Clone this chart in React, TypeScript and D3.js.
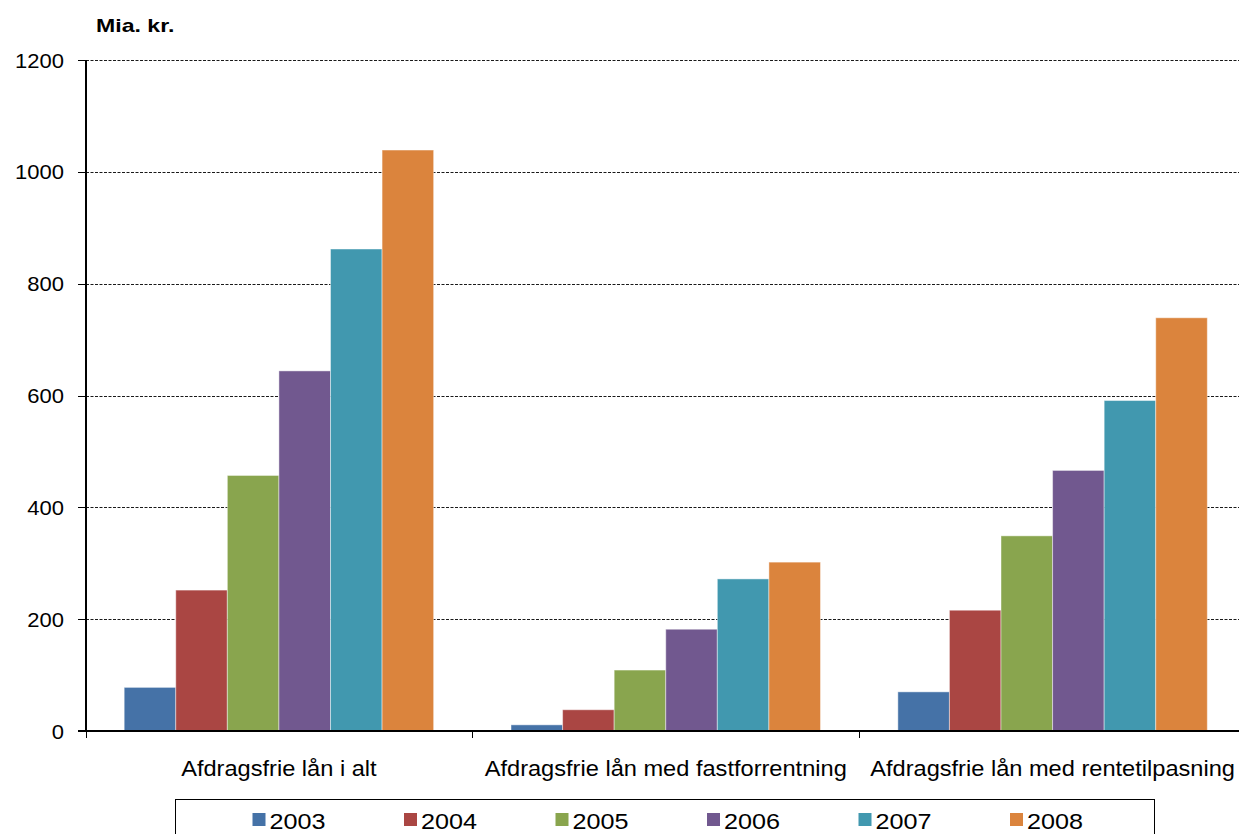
import React from "react";
import * as d3 from "d3";

// Categories along the x axis
const categories = [
  "Afdragsfrie lån i alt",
  "Afdragsfrie lån med fastforrentning",
  "Afdragsfrie lån med rentetilpasning",
];

// Series (one per year), values in mia. kr. per category
const years = ["2003", "2004", "2005", "2006", "2007", "2008"];
const values2003 = [78, 11, 70];
const values2004 = [252, 38, 216];
const values2005 = [457, 109, 349];
const values2006 = [644, 182, 466];
const values2007 = [862, 272, 591];
const values2008 = [1039, 302, 739];
const seriesValues = [values2003, values2004, values2005, values2006, values2007, values2008];

const colors = ["#4572A7", "#AA4643", "#89A54E", "#71588F", "#4198AF", "#DB843D"];

const yTicks = [0, 200, 400, 600, 800, 1000, 1200];
const yUnit = "Mia. kr.";

const W = 1239;
const H = 834;
const FONT = "'Liberation Sans', Arial, Helvetica, sans-serif";

export default function App() {
  const x0 = d3.scaleBand<string>().domain(categories).range([85.5, 1246]).paddingInner(0).paddingOuter(0);
  const x1 = d3
    .scaleBand<string>()
    .domain(years)
    .range([0, x0.bandwidth()])
    .paddingInner(0)
    .paddingOuter(0.75);
  const y = d3.scaleLinear().domain([0, 1200]).range([731, 60]);

  const axisX = 86;
  const axisY = y(0);

  // legend layout
  const legendLeft = 175;
  const legendTop = 799;
  const legendRight = 1154;
  const legendStart = 252.5;
  const legendStep = 151.5;

  return (
    <>
      <style>{"body{margin:0;}"}</style>
      <svg width={W} height={H} style={{ display: "block", background: "#fff" }} fontFamily={FONT}>
        {/* unit label */}
        <text
          transform={`translate(96,32) scale(1.32,1)`}
          fontSize={17.5}
          fontWeight="bold"
          fill="#000"
        >
          {yUnit}
        </text>

        {/* horizontal dashed gridlines */}
        {yTicks
          .filter((t) => t > 0)
          .map((t) => (
            <line
              key={`g${t}`}
              x1={axisX}
              x2={W}
              y1={Math.round(y(t)) + 0.5}
              y2={Math.round(y(t)) + 0.5}
              stroke="#1a1a1a"
              strokeWidth={1}
              strokeDasharray="3,1.5"
            />
          ))}

        {/* bars */}
        {years.map((yr, si) =>
          categories.map((cat, ci) => {
            const v = seriesValues[si][ci];
            const bx = (x0(cat) as number) + (x1(yr) as number);
            return (
              <rect
                key={`${yr}-${cat}`}
                x={bx}
                y={y(v)}
                width={x1.bandwidth()}
                height={axisY - y(v)}
                fill={colors[si]}
                stroke="rgba(255,255,255,0.45)"
                strokeWidth={1}
              />
            );
          })
        )}

        {/* y axis */}
        <line x1={axisX} x2={axisX} y1={y(1200)} y2={axisY + 1} stroke="#000" strokeWidth={2} />
        {yTicks.map((t) => (
          <g key={`yt${t}`}>
            <line x1={78} x2={axisX} y1={Math.round(y(t)) + 0.5} y2={Math.round(y(t)) + 0.5} stroke="#000" strokeWidth={1} />
            <text
              transform={`translate(64,${y(t) + 7.5}) scale(1.1,1)`}
              textAnchor="end"
              fontSize={20}
              fill="#000"
            >
              {t}
            </text>
          </g>
        ))}

        {/* x axis */}
        <line x1={78} x2={W} y1={axisY} y2={axisY} stroke="#000" strokeWidth={2} />
        {categories.map((cat, i) => (
          <line
            key={`xt${i}`}
            x1={Math.round(x0(cat) as number) + 0.5}
            x2={Math.round(x0(cat) as number) + 0.5}
            y1={axisY}
            y2={axisY + 7}
            stroke="#000"
            strokeWidth={1}
          />
        ))}
        {categories.map((cat) => (
          <text
            key={`xl${cat}`}
            transform={`translate(${(x0(cat) as number) + x0.bandwidth() / 2},776) scale(1.05,1)`}
            textAnchor="middle"
            fontSize={22.5}
            fill="#000"
          >
            {cat}
          </text>
        ))}

        {/* legend */}
        <rect
          x={legendLeft + 0.5}
          y={legendTop + 0.5}
          width={legendRight - legendLeft}
          height={60}
          fill="#fff"
          stroke="#000"
          strokeWidth={1}
        />
        {years.map((yr, i) => {
          const lx = legendStart + i * legendStep;
          return (
            <g key={`lg${yr}`}>
              <rect x={lx} y={813} width={13} height={13} fill={colors[i]} />
              <text transform={`translate(${lx + 17},828.5) scale(1.12,1)`} fontSize={22.5} fill="#000">
                {yr}
              </text>
            </g>
          );
        })}
      </svg>
    </>
  );
}
